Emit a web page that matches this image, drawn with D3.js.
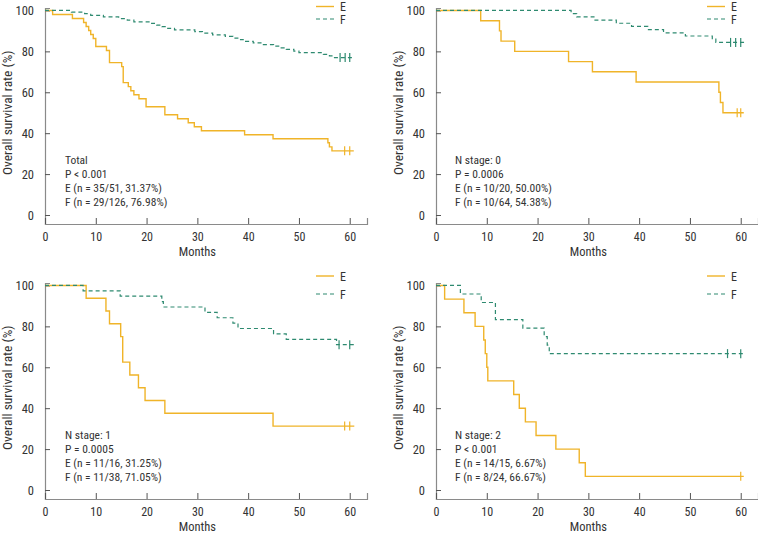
<!DOCTYPE html>
<html>
<head>
<meta charset="utf-8">
<script src="https://cdn.jsdelivr.net/npm/d3@7"></script>
<style>
  html, body { margin: 0; padding: 0; background: #fff; }
  svg { display: block; }
  text { font-family: "Liberation Sans Narrow", "Roboto Condensed", "DejaVu Sans Condensed", "Arial Narrow", sans-serif; fill: #333; }
</style>
</head>
<body>
<svg id="chart" width="758" height="535"></svg>
<script>
// ---------- DATA ----------
const xTicks = [0, 10, 20, 30, 40, 50, 60];
const yTicks = [0, 20, 40, 60, 80, 100];
const seriesNames = ["E", "F"];

// Panel 1: Total
const totalETimes = [1.5, 5.4, 7.6, 8.1, 8.6, 9.0, 9.5, 10.0, 12.1, 12.7, 15.1, 15.4, 16.4, 16.9, 17.5, 18.5, 19.9, 23.6, 26.1, 28.2, 29.4, 30.8, 39.3, 44.9, 55.7, 56.0, 56.5];
const totalESurv  = [98.04, 96.08, 94.12, 92.16, 90.20, 88.24, 86.27, 82.35, 80.39, 74.51, 72.55, 64.71, 62.75, 60.78, 58.82, 56.86, 52.94, 49.02, 47.06, 45.10, 43.14, 41.18, 39.22, 37.25, 35.29, 33.33, 31.37];
const totalECensor = [59.0, 60.0];
const totalEEnd = 60.8;
const totalFTimes = [5.2, 7.8, 9.0, 11.5, 14.5, 16.2, 17.5, 21.0, 22.0, 23.0, 23.8, 25.5, 29.5, 31.0, 33.0, 35.5, 37.0, 38.5, 39.5, 41.0, 43.0, 45.0, 46.5, 47.5, 49.0, 50.0, 54.8, 56.0, 57.0];
const totalFSurv  = [99.21, 98.41, 97.62, 96.83, 96.03, 95.24, 94.44, 93.65, 92.86, 92.06, 91.27, 90.48, 89.68, 88.89, 88.10, 87.30, 86.51, 85.71, 84.92, 84.13, 83.33, 82.54, 81.75, 80.95, 80.16, 79.37, 78.57, 77.78, 76.98];
const totalFCensor = [58.1, 59.1, 60.0];
const totalFEnd = 60.8;
const totalNotes = ["Total", "P < 0.001", "E (n = 35/51, 31.37%)", "F (n = 29/126, 76.98%)"];

// Panel 2: N stage 0
const n0ETimes = [8.8, 12.5, 12.8, 15.5, 26.1, 30.8, 39.4, 55.7, 56.0, 56.5];
const n0ESurv  = [95, 90, 85, 80, 75, 70, 65, 60, 55, 50];
const n0ECensor = [59.3, 60.0];
const n0EEnd = 60.6;
const n0FTimes = [26.6, 27.7, 31.1, 35.5, 38.5, 41.7, 44.8, 49.1, 54.4, 55.1];
const n0FSurv  = [98.44, 96.88, 95.31, 93.75, 92.19, 90.63, 89.06, 87.50, 85.94, 84.38];
const n0FCensor = [58.0, 59.0, 60.0];
const n0FEnd = 60.8;
const n0Notes = ["N stage: 0", "P = 0.0006", "E (n = 10/20, 50.00%)", "F (n = 10/64, 54.38%)"];

// Panel 3: N stage 1
const n1ETimes = [8.1, 12.0, 12.7, 14.9, 15.3, 16.7, 18.4, 19.7, 23.6, 44.9];
const n1ESurv  = [93.75, 87.50, 81.25, 75.00, 62.50, 56.25, 50.00, 43.75, 37.50, 31.25];
const n1ECensor = [59.0, 60.0];
const n1EEnd = 60.9;
const n1FTimes = [7.5, 14.8, 23.0, 23.3, 31.5, 33.9, 37.0, 38.0, 45.0, 47.5, 57.4];
const n1FSurv  = [97.37, 94.74, 92.11, 89.47, 86.84, 84.21, 81.58, 78.95, 76.32, 73.68, 71.05];
const n1FCensor = [57.9, 60.0];
const n1FEnd = 60.9;
const n1Notes = ["N stage: 1", "P = 0.0005", "E (n = 11/16, 31.25%)", "F (n = 11/38, 71.05%)"];

// Panel 4: N stage 2
const n2ETimes = [1.7, 5.5, 7.7, 9.4, 9.7, 10.0, 10.2, 15.3, 16.4, 17.6, 19.7, 23.6, 28.2, 29.4];
const n2ESurv  = [93.33, 86.67, 80.00, 73.33, 66.67, 60.00, 53.33, 46.67, 40.00, 33.33, 26.67, 20.00, 13.33, 6.67];
const n2ECensor = [60.0];
const n2EEnd = 60.6;
const n2FTimes = [4.8, 8.9, 11.7, 17.1, 21.3, 21.9, 22.3];
const n2FSurv  = [95.83, 91.67, 83.33, 79.17, 75.00, 70.83, 66.67];
const n2FCensor = [57.4, 60.0];
const n2FEnd = 60.6;
const n2Notes = ["N stage: 2", "P < 0.001", "E (n = 14/15, 6.67%)", "F (n = 8/24, 66.67%)"];

// ---------- STYLE / LAYOUT ----------
const colorE = "#F0B429";
const colorF = "#2E8A70";
const axisColor = "#8a8a8a";
const fontStack = '"Liberation Sans Narrow", "Roboto Condensed", "DejaVu Sans Condensed", sans-serif';

const panels = [
  { ox: 0,   oy: 0,   e: [totalETimes, totalESurv, totalECensor, totalEEnd], f: [totalFTimes, totalFSurv, totalFCensor, totalFEnd], notes: totalNotes },
  { ox: 391, oy: 0,   e: [n0ETimes, n0ESurv, n0ECensor, n0EEnd], f: [n0FTimes, n0FSurv, n0FCensor, n0FEnd], notes: n0Notes },
  { ox: 0,   oy: 275, e: [n1ETimes, n1ESurv, n1ECensor, n1EEnd], f: [n1FTimes, n1FSurv, n1FCensor, n1FEnd], notes: n1Notes },
  { ox: 391, oy: 275, e: [n2ETimes, n2ESurv, n2ECensor, n2EEnd], f: [n2FTimes, n2FSurv, n2FCensor, n2FEnd], notes: n2Notes }
];

const svg = d3.select("#chart");

panels.forEach(p => {
  const g = svg.append("g").attr("transform", `translate(${p.ox},${p.oy})`);
  const x = d3.scaleLinear().domain([0, 63.4]).range([45, 367]);
  const y = d3.scaleLinear().domain([-4.4, 101.2]).range([224, 8]);

  // y axis (ticks pointing inward)
  const ya = g.append("g").attr("transform", "translate(45,0)")
    .call(d3.axisLeft(y).tickValues(yTicks).tickSize(-5).tickPadding(11).tickFormat(d3.format("d")));
  ya.select(".domain").attr("stroke", axisColor).attr("stroke-width", 1.2);
  ya.selectAll(".tick line").attr("stroke", "#555");
  ya.selectAll(".tick text").attr("font-size", 12.5).attr("fill", "#333").style("font-family", fontStack);

  // x axis (ticks pointing upward)
  const xa = g.append("g").attr("transform", "translate(0,224)")
    .call(d3.axisBottom(x).tickValues(xTicks).tickSize(-6).tickPadding(8).tickFormat(d3.format("d")));
  xa.select(".domain").attr("stroke", axisColor).attr("stroke-width", 1.2);
  xa.selectAll(".tick line").attr("stroke", "#555");
  xa.selectAll(".tick text").attr("font-size", 12).attr("fill", "#333").style("font-family", fontStack);

  // axis titles
  g.append("text").attr("x", x(30)).attr("y", 256).attr("text-anchor", "middle")
    .attr("font-size", 12.5).text("Months");
  g.append("text").attr("transform", `translate(12,${y(50)}) rotate(-90)`)
    .attr("text-anchor", "middle").attr("font-size", 13.5).text("Overall survival rate (%)");

  // curves
  const line = d3.line().x(d => x(d[0])).y(d => y(d[1])).curve(d3.curveStepAfter);
  const series = [
    { d: p.e, color: colorE, dash: null, w: 1.4 },
    { d: p.f, color: colorF, dash: "4,3", w: 1.2 }
  ];
  series.forEach(s => {
    const [times, surv, cens, end] = s.d;
    const pts = [[0, 100]];
    times.forEach((t, i) => pts.push([t, surv[i]]));
    pts.push([end, surv[surv.length - 1]]);
    g.append("path").datum(pts).attr("d", line).attr("fill", "none")
      .attr("stroke", s.color).attr("stroke-width", s.w)
      .attr("stroke-dasharray", s.dash);
    const last = surv[surv.length - 1];
    g.selectAll(null).data(cens).enter().append("line")
      .attr("x1", d => x(d)).attr("x2", d => x(d))
      .attr("y1", y(last) - 4.5).attr("y2", y(last) + 4.5)
      .attr("stroke", s.color).attr("stroke-width", 1.2);
  });

  // legend (top panels nudged so the "E" label stays inside the picture)
  const top = p.oy === 0;
  seriesNames.forEach((nm, i) => {
    const ly = i === 0 ? (top ? 6.5 : 1) : 19;
    g.append("line").attr("x1", 316).attr("x2", 334).attr("y1", ly).attr("y2", ly)
      .attr("stroke", i === 0 ? colorE : colorF).attr("stroke-width", i === 0 ? 1.4 : 1.2)
      .attr("stroke-dasharray", i === 0 ? null : "4,3");
    g.append("text").attr("x", 340).attr("y", ly + 4.5).attr("font-size", 12).text(nm);
  });

  // annotation
  const ax = p.ox === 0 ? 65 : 64;
  p.notes.forEach((t, i) => {
    g.append("text").attr("x", ax).attr("y", 164 + i * 14).attr("font-size", 11.5).text(t);
  });
});
</script>
</body>
</html>
